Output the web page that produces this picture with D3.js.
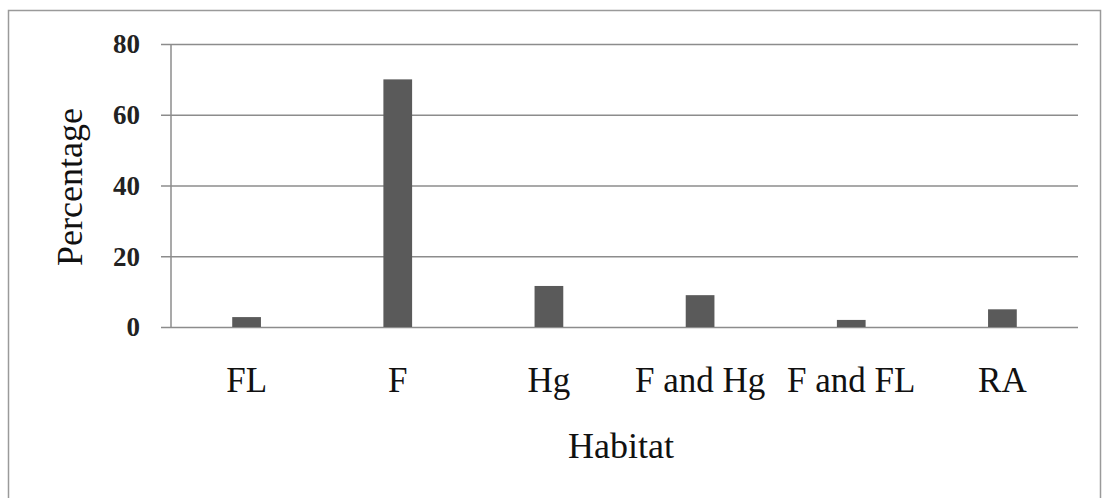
<!DOCTYPE html>
<html>
<head>
<meta charset="utf-8">
<script src="https://cdn.jsdelivr.net/npm/d3@7"></script>
<style>
  html, body { margin: 0; padding: 0; background: #fff; }
  svg { display: block; }
</style>
</head>
<body>
<svg id="chart" width="1102" height="498"></svg>
<script>
// Habitat categories and the share of records in each (%)
const habitats = ["FL", "F", "Hg", "F and Hg", "F and FL", "RA"];
const percentages = [2.8, 70, 11.6, 9, 2, 5];
const yTicks = [0, 20, 40, 60, 80];

const svg = d3.select("#chart");
const W = 1102, H = 498;
const plot = { left: 171, right: 1078, top: 44, bottom: 327 };
const serif = "'Liberation Serif', 'Times New Roman', serif";

// chart area frame (open at the bottom)
svg.append("path")
  .attr("d", `M8.5,${H} V10.5 H1100.5 V${H}`)
  .attr("fill", "none")
  .attr("stroke", "#9a9a9a")
  .attr("stroke-width", 1.5);

const x = d3.scaleBand()
  .domain(habitats)
  .range([plot.left, plot.right])
  .paddingInner(0.81)
  .paddingOuter(0.405);

const y = d3.scaleLinear()
  .domain([0, 80])
  .range([plot.bottom, plot.top]);

// horizontal gridlines with short outer ticks
const yAxis = d3.axisLeft(y)
  .tickValues(yTicks)
  .tickSize(-(plot.right - plot.left))
  .tickPadding(0)
  .tickFormat("");
const gy = svg.append("g")
  .attr("transform", `translate(${plot.left},0)`)
  .call(yAxis);
gy.select(".domain").remove();
gy.selectAll(".tick line")
  .attr("x1", -10)
  .attr("stroke", "#8c8c8c")
  .attr("stroke-width", 1.5);

// tick labels
svg.append("g").selectAll("text")
  .data(yTicks)
  .join("text")
  .attr("x", 140)
  .attr("y", d => y(d))
  .attr("dy", "0.35em")
  .attr("text-anchor", "end")
  .attr("font-family", serif)
  .attr("font-weight", "bold")
  .attr("font-size", 27)
  .attr("fill", "#222")
  .text(d => d);

// vertical axis line
svg.append("line")
  .attr("x1", plot.left).attr("x2", plot.left)
  .attr("y1", plot.top).attr("y2", plot.bottom)
  .attr("stroke", "#8c8c8c")
  .attr("stroke-width", 1.5);

// bars
svg.append("g").selectAll("rect")
  .data(habitats)
  .join("rect")
  .attr("x", d => x(d))
  .attr("width", x.bandwidth())
  .attr("y", (d, i) => y(percentages[i]))
  .attr("height", (d, i) => y(0) - y(percentages[i]))
  .attr("fill", "#5a5a5a");

// category labels
const xAxis = d3.axisBottom(x).tickSize(0).tickPadding(0);
const gx = svg.append("g")
  .attr("transform", `translate(0,${plot.bottom})`)
  .call(xAxis);
gx.select(".domain").remove();
gx.selectAll(".tick text")
  .attr("y", 65)
  .attr("dy", 0)
  .attr("font-family", serif)
  .attr("font-size", 35)
  .attr("fill", "#111");

// axis titles
svg.append("text")
  .attr("x", 621)
  .attr("y", 458)
  .attr("text-anchor", "middle")
  .attr("font-family", serif)
  .attr("font-size", 36)
  .attr("fill", "#111")
  .text("Habitat");

svg.append("text")
  .attr("transform", "translate(82,187) rotate(-90)")
  .attr("text-anchor", "middle")
  .attr("font-family", serif)
  .attr("font-size", 36)
  .attr("fill", "#111")
  .text("Percentage");
</script>
</body>
</html>
